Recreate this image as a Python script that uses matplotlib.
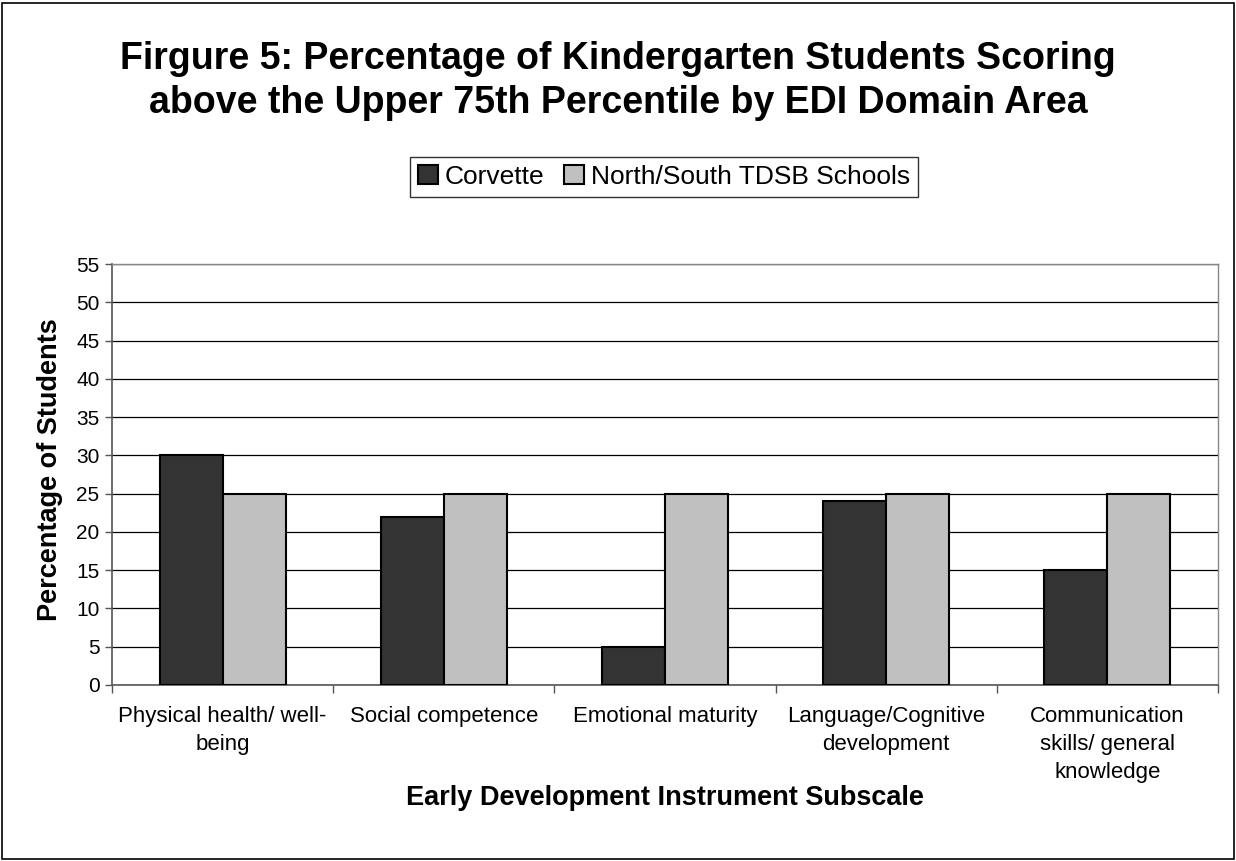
import numpy as np
import matplotlib
matplotlib.use("Agg")
import matplotlib.pyplot as plt
from matplotlib.patches import Rectangle

categories = [
    "Physical health/ well-\nbeing",
    "Social competence",
    "Emotional maturity",
    "Language/Cognitive\ndevelopment",
    "Communication\nskills/ general\nknowledge",
]
corvette = [30, 22, 5, 24, 15]
north_south = [25, 25, 25, 25, 25]
y_ticks = list(range(0, 56, 5))

plt.rcParams["font.family"] = ["Liberation Sans", "DejaVu Sans"]

fig = plt.figure(figsize=(12.36, 8.61), dpi=100)
# outer chart border
fig.patches.append(Rectangle((0.002, 0.002), 0.996, 0.995, transform=fig.transFigure,
                             fill=False, edgecolor="black", linewidth=1.2))

ax = fig.add_axes([112 / 1236, 1 - 685 / 861, (1218 - 112) / 1236, (685 - 264) / 861])

x = np.arange(len(categories))
w = 0.285
ax.bar(x - w / 2, corvette, w, color="#333333", edgecolor="black", linewidth=1.5,
       label="Corvette", zorder=3)
ax.bar(x + w / 2, north_south, w, color="#c0c0c0", edgecolor="black", linewidth=1.5,
       label="North/South TDSB Schools", zorder=3)

ax.set_xlim(-0.5, len(categories) - 0.5)
ax.set_ylim(0, 55)
ax.set_yticks(y_ticks)
ax.tick_params(axis="y", labelsize=15, length=5, direction="out", width=1,
               color="#555555", pad=4)
ax.yaxis.grid(True, color="black", linewidth=0.9)
ax.set_axisbelow(True)

# boundary ticks between categories, labels centred under each group
ax.set_xticks(np.arange(-0.5, len(categories)), minor=False)
ax.set_xticklabels([])
ax.tick_params(axis="x", length=6, width=1, color="#555555")
ax.set_xticks(x, minor=True)
ax.set_xticklabels(categories, minor=True, fontsize=16, linespacing=1.43, va="top")
ax.tick_params(axis="x", which="minor", length=0, pad=15)

for side in ["top", "right"]:
    ax.spines[side].set_color("#888888")
    ax.spines[side].set_linewidth(1)
ax.spines["left"].set_color("#555555")
ax.spines["bottom"].set_color("#555555")
ax.spines["left"].set_linewidth(1.2)
ax.spines["bottom"].set_linewidth(1.2)

fig.text(50 / 1236, 1 - 470 / 861, "Percentage of Students", rotation=90,
         ha="center", va="center", fontsize=19.5, fontweight="bold")
fig.text(665 / 1236, 1 - 798 / 861, "Early Development Instrument Subscale",
         ha="center", va="center", fontsize=19.5, fontweight="bold")

fig.text(618 / 1236, 1 - 81 / 861,
         "Firgure 5: Percentage of Kindergarten Students Scoring\nabove the Upper 75th Percentile by EDI Domain Area",
         ha="center", va="center", fontsize=27, fontweight="bold", linespacing=1.26)

leg = fig.legend(loc="center", bbox_to_anchor=(664 / 1236, 1 - 177 / 861), ncol=2,
                 fontsize=19, frameon=True, fancybox=False, edgecolor="black",
                 handlelength=0.75, handleheight=0.75, handletextpad=0.27, columnspacing=0.75,
                 borderpad=0.3, borderaxespad=0)
leg.get_frame().set_linewidth(1)

fig.savefig("out.png", dpi=100)
